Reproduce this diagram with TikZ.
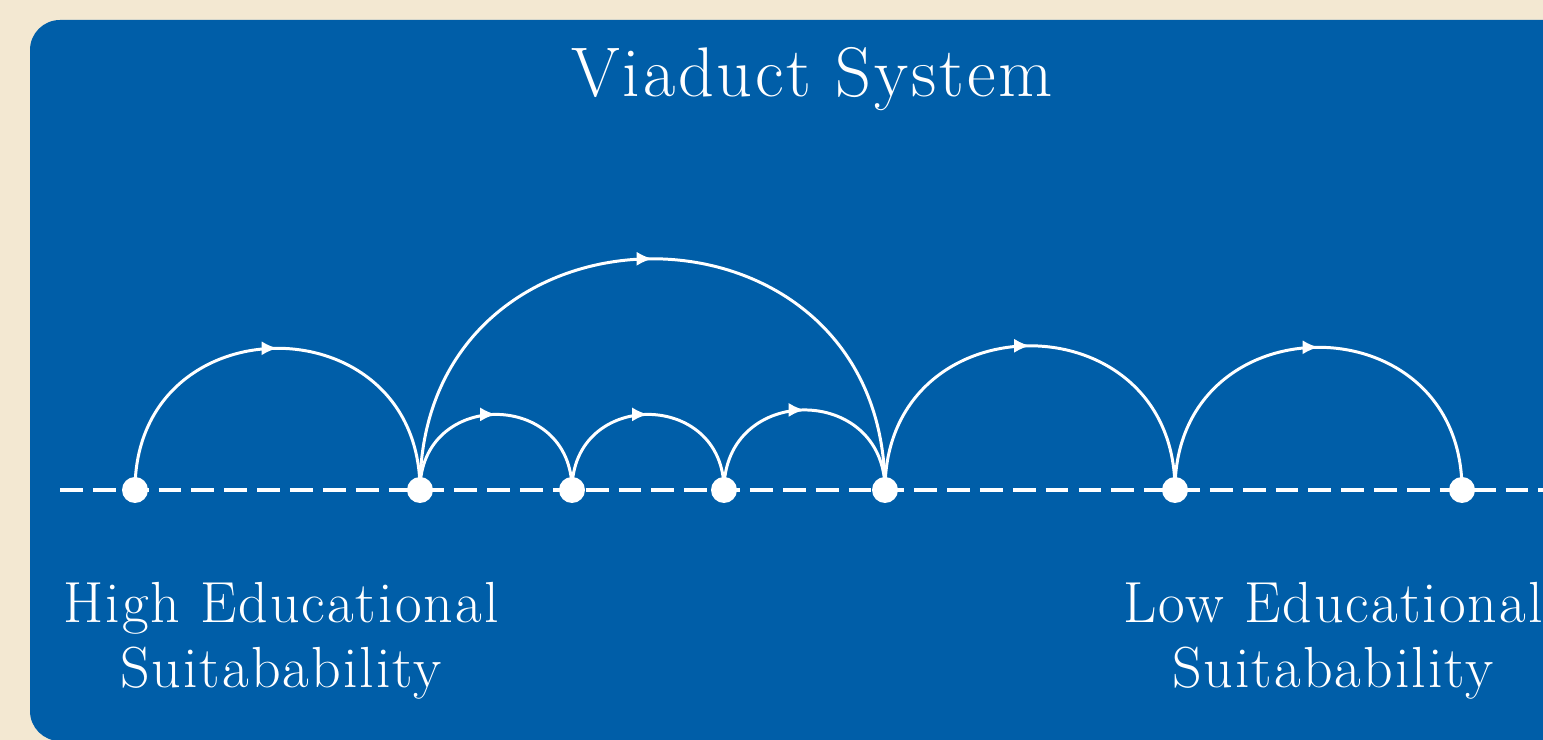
\documentclass[tikz,border=0pt]{standalone}
\usepackage{fontspec}
\usetikzlibrary{arrows.meta,decorations.markings}
\definecolor{paper}{HTML}{F3E8D2}
\definecolor{panel}{HTML}{005EA8}
\newfontfamily\titlefont{Latin Modern Roman}[LetterSpace=4]
\newfontfamily\capfont{Latin Modern Roman}[LetterSpace=3.5]

\begin{document}
\begin{tikzpicture}[x=0.02cm,y=0.02cm,>=Latex,
 stop/.style={circle,fill=white,inner sep=0pt,minimum size=0.52cm},
 hop/.style={white,line width=1.7pt,out=90,in=90,looseness=1.7,
  postaction={decorate},
  decoration={markings,mark=at position .5 with {\arrow{Latex[length=9pt,width=8pt]}}}},
 caption/.style={white,align=center,font=\capfont\fontsize{33}{37.5}\selectfont}]
\useasboundingbox (0,0) rectangle (1543,740);
\clip (0,0) rectangle (1543,740);
\fill[paper] (0,0) rectangle (1543,740);
\fill[panel,rounded corners=0.6cm] (30,-1) rectangle (1600,720);
\node[white,anchor=base,font=\titlefont\fontsize{40}{44}\selectfont] (title) at (812,643) {Viaduct System};
% the track
\coordinate (lineL) at (60,250);
\coordinate (lineR) at (1560,250);
\draw[white,line width=2.3pt,dash pattern=on 13pt off 5.7pt] (lineL)--(lineR);
\foreach \n/\x in {p1/135,p2/420,p3/572,p4/724,p5/885,p6/1175,p7/1462}
{\node[stop] (\n) at (\x,250) {};}
% jumps
\foreach \a/\b in {p1/p2,p2/p5,p2/p3,p3/p4,p4/p5,p5/p6,p6/p7}
{\draw[hop] (\a.center) to (\b.center);}
\node[caption,anchor=base] (hiLabel) at (281,52) {High Educational\\Suitabability};
\node[caption,anchor=base] (loLabel) at (1333,52) {Low Educational\\Suitabability};
\end{tikzpicture}
\end{document}
